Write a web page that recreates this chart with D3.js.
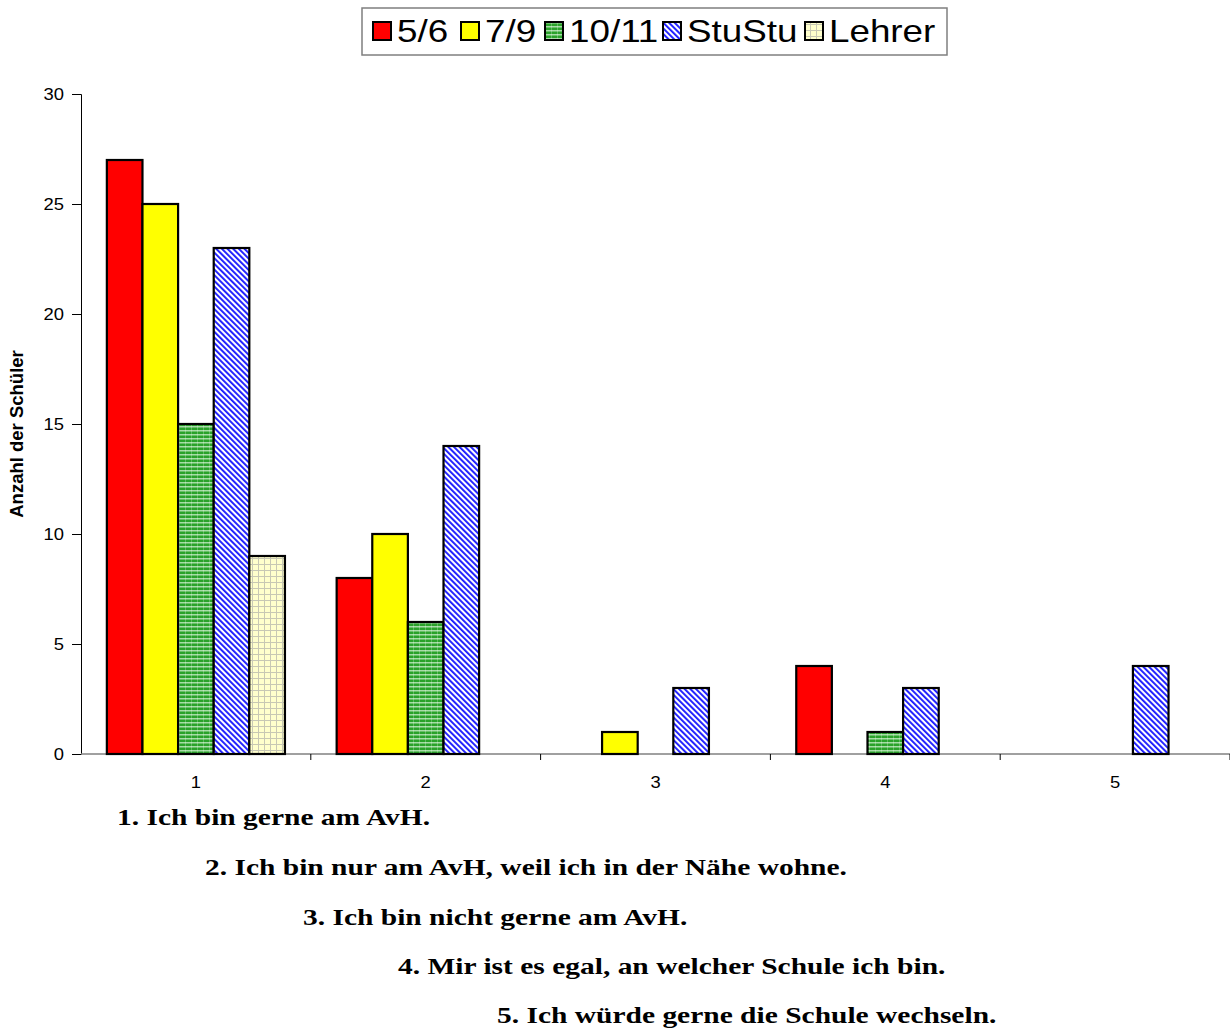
<!DOCTYPE html>
<html><head><meta charset="utf-8">
<script src="https://cdn.jsdelivr.net/npm/d3@7"></script>
<style>body{margin:0;background:#fff}svg{display:block}</style>
</head><body>
<svg id="chart" width="1230" height="1032"></svg>
<script>
const categories = ["1","2","3","4","5"];
const seriesNames = ["5/6","7/9","10/11","StuStu","Lehrer"];
const s56 = [27, 8, 0, 4, 0];
const s79 = [25, 10, 1, 0, 0];
const s1011 = [15, 6, 0, 1, 0];
const sStuStu = [23, 14, 3, 3, 4];
const sLehrer = [9, 0, 0, 0, 0];
const yTicks = [0, 5, 10, 15, 20, 25, 30];
const statements = [
  "1. Ich bin gerne am AvH.",
  "2. Ich bin nur am AvH, weil ich in der Nähe wohne.",
  "3. Ich bin nicht gerne am AvH.",
  "4. Mir ist es egal, an welcher Schule ich bin.",
  "5. Ich würde gerne die Schule wechseln."
];
const seriesValues = [s56, s79, s1011, sStuStu, sLehrer];
const fills = ["#ff0000", "#ffff00", "url(#pGreen)", "url(#pBlue)", "url(#pCream)"];

const sansFont = "Arial, 'Liberation Sans', sans-serif";
const serifFont = "'Liberation Serif', 'Times New Roman', serif";

const svg = d3.select("#chart");
const defs = svg.append("defs");
// green horizontal stripes
let p = defs.append("pattern").attr("id","pGreen").attr("patternUnits","userSpaceOnUse").attr("width",6).attr("height",4);
p.append("rect").attr("width",6).attr("height",4).attr("fill","#2aa22a");
p.append("rect").attr("y",2).attr("width",6).attr("height",1.5).attr("fill","#a6dca6");
p.append("rect").attr("x",5).attr("width",1).attr("height",4).attr("fill","#ffffff").attr("opacity",0.25);
// blue diagonal
p = defs.append("pattern").attr("id","pBlue").attr("patternUnits","userSpaceOnUse").attr("width",4).attr("height",10).attr("patternTransform","rotate(-45)");
p.append("rect").attr("width",4).attr("height",10).attr("fill","#ffffff");
p.append("rect").attr("width",1.9).attr("height",10).attr("fill","#1a1aff");
// cream grid
p = defs.append("pattern").attr("id","pCream").attr("patternUnits","userSpaceOnUse").attr("width",6).attr("height",6);
p.append("rect").attr("width",6).attr("height",6).attr("fill","#ffffcc");
p.append("rect").attr("width",1).attr("height",6).attr("fill","#c8c8b4");
p.append("rect").attr("width",6).attr("height",1).attr("fill","#c8c8b4");

const pLeft = 81, pRight = 1230, pTop = 94, pBottom = 754;
const x0 = d3.scaleBand().domain(categories).range([pLeft, pRight]).paddingInner(0.225).paddingOuter(0.1125);
const x1 = d3.scaleBand().domain(seriesNames).range([0, x0.bandwidth()]);
const y = d3.scaleLinear().domain([0, 30]).range([pBottom, pTop]);

// y axis
const yAxis = svg.append("g").attr("transform",`translate(${pLeft},0)`)
  .call(d3.axisLeft(y).tickValues(yTicks).tickSize(9).tickPadding(8));
yAxis.select(".domain").attr("stroke","#000").attr("stroke-width",1);
yAxis.selectAll(".tick line").attr("stroke","#000");
yAxis.selectAll(".tick text").each(function(){
  const t = d3.select(this);
  const xx = +t.attr("x");
  t.attr("x", null).attr("transform", `translate(${xx},0) scale(1.15,1)`);
}).attr("font-family",sansFont).attr("font-size",16).attr("fill","#000");

// x axis
const xb = d3.scaleLinear().domain([0,5]).range([pLeft,pRight]);
const xAxisG = svg.append("g");
xAxisG.append("line").attr("x1",pLeft).attr("x2",pRight).attr("y1",pBottom).attr("y2",pBottom).attr("stroke","#808080").attr("stroke-width",1.5);
xAxisG.selectAll("line.tk").data(d3.range(1,6)).join("line").attr("class","tk")
  .attr("x1",d=>xb(d)).attr("x2",d=>xb(d)).attr("y1",pBottom).attr("y2",pBottom+6).attr("stroke","#000");
xAxisG.selectAll("text").data(categories).join("text")
  .attr("transform",d=>`translate(${x0(d)+x0.bandwidth()/2},${pBottom+34}) scale(1.15,1)`)
  .attr("text-anchor","middle").attr("font-family",sansFont).attr("font-size",16).text(d=>d);

// bars
const g = svg.append("g");
seriesNames.forEach((s, si) => {
  g.selectAll(null).data(categories.map((c,ci)=>({c, v: seriesValues[si][ci]})).filter(d=>d.v>0))
    .join("rect")
    .attr("x", d => x0(d.c) + x1(s))
    .attr("y", d => y(d.v))
    .attr("width", x1.bandwidth())
    .attr("height", d => y(0) - y(d.v))
    .attr("fill", fills[si])
    .attr("stroke", "#000").attr("stroke-width", 2.2);
});

// y axis title
svg.append("text").attr("transform","translate(23,434) rotate(-90)")
  .attr("text-anchor","middle").attr("font-family",sansFont)
  .attr("font-weight","bold").attr("font-size",18.5).text("Anzahl der Schüler");

// legend
const lg = svg.append("g");
lg.append("rect").attr("x",362).attr("y",8).attr("width",585).attr("height",47)
  .attr("fill","#fff").attr("stroke","#7f7f7f").attr("stroke-width",1.5);
const legX = [373, 461, 545, 663, 805];
seriesNames.forEach((s, i) => {
  lg.append("rect").attr("x",legX[i]).attr("y",22).attr("width",18).attr("height",18)
    .attr("fill",fills[i]).attr("stroke","#000").attr("stroke-width",2);
  lg.append("text").attr("transform",`translate(${legX[i]+24},42) scale(1.15,1)`)
    .attr("font-family",sansFont).attr("font-size",32).text(s);
});

// statements
const stX = [117, 205, 303, 398, 497];
const stY = [825, 875, 925, 974, 1023];
svg.selectAll("text.st").data(statements).join("text").attr("class","st")
  .attr("transform",(d,i)=>`translate(${stX[i]},${stY[i]}) scale(1.31,1)`)
  .attr("font-family",serifFont).attr("font-weight","bold")
  .attr("font-size",22.5).text(d=>d);
</script>
</body></html>
